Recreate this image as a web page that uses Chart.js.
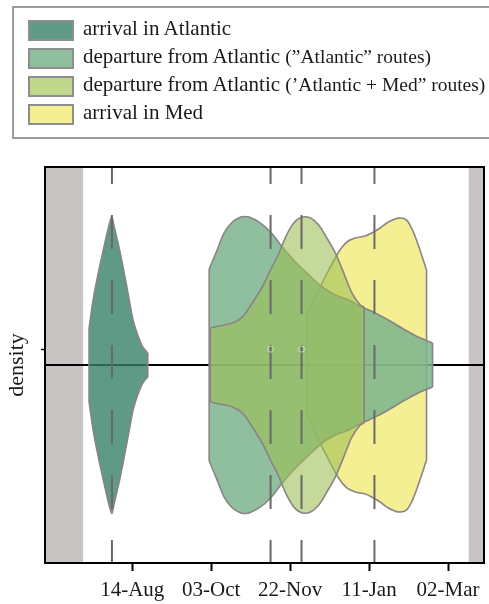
<!DOCTYPE html>
<html>
<head>
<meta charset="utf-8">
<script src="https://cdn.jsdelivr.net/npm/chart.js@4.4.1/dist/chart.umd.min.js"></script>
<style>
  html, body { margin: 0; padding: 0; background: #fff; overflow: hidden; }
  body { width: 489px; height: 604px; position: relative; font-family: 'Liberation Serif', serif; color: #1a1a1a; }
  #chart { position: absolute; left: 0; top: 0; }
  #legendBox { position: absolute; left: 12px; top: 6px; width: 490px; height: 133px;
               border: 2px solid #9c9c9c; box-sizing: border-box; }
  .sw { position: absolute; left: 28px; width: 46px; height: 21px; box-sizing: border-box;
        border: 2px solid #8e8e8e; }
  .lab { position: absolute; left: 83px; font-size: 21px; line-height: 28px; white-space: nowrap; }
  .lab small { font-size: 19.5px; }
</style>
</head>
<body>
<div id="legendBox"></div>
<canvas id="chart" width="489" height="604"></canvas>
<script>
'use strict';

/* ── data (x = days after 14-Aug, y = half-width of violin) ── */
const SERIES_LABELS = ['arrival in Atlantic', 'departure from Atlantic', 'departure from Atlantic', 'arrival in Med'];
const SERIES_NOTES  = ['', '(\u201DAtlantic\u201D routes)', '(\u2019Atlantic + Med\u201D routes)', ''];
const SERIES_FILL   = ['rgba(55,129,105,0.8)', 'rgba(123,180,142,0.85)', 'rgba(155,191,81,0.58)', 'rgba(238,228,77,0.6)'];
const SERIES_SWATCH = ['#5f9a87', '#8fbf9f', '#c0d88c', '#f5ef94'];

const TICK_DAYS   = [0, 50, 100, 150, 200];
const TICK_LABELS = ['14-Aug', '03-Oct', '22-Nov', '11-Jan', '02-Mar'];
const X_MIN = -55.3, X_MAX = 222.8;
const SHADE_BEFORE = -31;   // grey band up to here
const SHADE_AFTER  = 213;   // grey band from here
const MARK_Y = 0.08;

const ARR_ATL_DAYS = [-27.4, -24.8, -20.6, -16.4, -14.3, -12.9, -11.5, -8.0, -3.8, 0.4, 3.5, 6.7, 9.8];
const ARR_ATL_DENS = [0.185, 0.33, 0.50, 0.65, 0.72, 0.75, 0.70, 0.58, 0.41, 0.23, 0.15, 0.09, 0.06];

const DEP_ATL_DAYS = [48.7, 53.0, 58.2, 63.4, 68.7, 71.3, 74.0, 80.3, 87.6, 95.0, 103.4, 111.8, 120.2, 128.6, 137.0, 145.4, 153.8, 162.2, 172.8, 181.2, 190.2];
const DEP_ATL_DENS = [0.485, 0.566, 0.667, 0.722, 0.747, 0.75, 0.747, 0.722, 0.672, 0.596, 0.52, 0.455, 0.394, 0.354, 0.328, 0.293, 0.263, 0.227, 0.177, 0.141, 0.111];

const DEP_MED_DAYS = [49.4, 55.0, 63.4, 69.7, 76.0, 82.3, 87.6, 92.9, 97.1, 102.3, 107.6, 112.9, 118.1, 123.3, 128.6, 133.9, 139.1, 144.4, 146.9];
const DEP_MED_DENS = [0.187, 0.197, 0.212, 0.242, 0.313, 0.394, 0.48, 0.565, 0.646, 0.717, 0.747, 0.742, 0.707, 0.641, 0.566, 0.465, 0.364, 0.303, 0.293];

const ARR_MED_DAYS = [110.7, 114.9, 120.2, 125.5, 130.7, 135.9, 141.2, 147.5, 151.7, 157.0, 162.2, 168.5, 173.8, 178.0, 182.2, 186.4];
const ARR_MED_DENS = [0.253, 0.328, 0.414, 0.495, 0.571, 0.621, 0.641, 0.652, 0.667, 0.692, 0.722, 0.742, 0.732, 0.672, 0.581, 0.48];

const MEDIANS = [-12.9, 87.6, 107.2, 153.4];
const MARKED_MEDIANS = [87.6, 107.2];

/* ── legend (html) ── */
SERIES_LABELS.forEach((label, i) => {
  const sw = document.createElement('div');
  sw.className = 'sw';
  sw.style.top = (20 + 28 * i) + 'px';
  sw.style.background = SERIES_SWATCH[i];
  document.body.appendChild(sw);
  const t = document.createElement('div');
  t.className = 'lab';
  t.style.top = (14 + 28 * i) + 'px';
  t.innerHTML = label + (SERIES_NOTES[i] ? ' <small>' + SERIES_NOTES[i] + '</small>' : '');
  document.body.appendChild(t);
});

/* ── chart ── */
Chart.defaults.font.family = "'Liberation Serif', serif";
Chart.defaults.color = '#1a1a1a';

const OUTLINE = '#8a8484';

// upper + lower outline (filled between), plus the two straight end cuts
function violin(days, dens, fill, order, tension) {
  const last = days.length - 1;
  const upper = days.map((d, i) => ({ x: d, y: dens[i] }));
  const lower = days.map((d, i) => ({ x: d, y: -dens[i] }));
  const ends = [
    { x: days[0], y: dens[0] }, { x: days[0], y: -dens[0] },
    { x: days[last], y: null },
    { x: days[last], y: dens[last] }, { x: days[last], y: -dens[last] }
  ];
  const base = { pointRadius: 0, borderColor: OUTLINE, borderWidth: 1.6 };
  return [
    Object.assign({ data: upper, fill: '+1', backgroundColor: fill, order: order + 0.5, tension }, base),
    Object.assign({ data: lower, fill: false, order: order, tension }, base),
    Object.assign({ data: ends, fill: false, order: order, spanGaps: false }, base)
  ];
}

function band(x0, x1) {
  return {
    data: [{ x: x0, y: 1 }, { x: x1, y: 1 }],
    fill: { value: -1 }, backgroundColor: '#c8c4c4', borderWidth: 0, pointRadius: 0, order: 30
  };
}

const datasets = [
  band(X_MIN, SHADE_BEFORE),
  band(SHADE_AFTER, X_MAX),
  { data: [{ x: X_MIN, y: 0 }, { x: X_MAX, y: 0 }], borderColor: '#000', borderWidth: 2, pointRadius: 0, fill: false, order: 20 },
  ...violin(ARR_MED_DAYS, ARR_MED_DENS, SERIES_FILL[3], 10, 0.3),
  ...violin(DEP_ATL_DAYS, DEP_ATL_DENS, SERIES_FILL[1], 8, 0.3),
  ...violin(DEP_MED_DAYS, DEP_MED_DENS, SERIES_FILL[2], 6, 0.3),
  ...violin(ARR_ATL_DAYS, ARR_ATL_DENS, SERIES_FILL[0], 4, 0.15),
  ...MEDIANS.map(m => ({
    data: [{ x: m, y: 1 }, { x: m, y: -1 }], borderColor: '#6b6868', borderWidth: 2,
    borderDash: [34, 31], borderDashOffset: 17, pointRadius: 0, fill: false, order: 2
  })),
  {
    data: MARKED_MEDIANS.map(m => ({ x: m, y: MARK_Y })), showLine: false, pointRadius: 3,
    pointBorderColor: 'rgba(215,228,200,0.8)', pointBackgroundColor: 'rgba(0,0,0,0)', pointBorderWidth: 1, order: 1
  }
];

const framePlugin = {
  id: 'frame',
  afterDatasetsDraw(chart) {
    const { ctx, chartArea: a } = chart;
    ctx.save();
    ctx.strokeStyle = '#000';
    ctx.lineWidth = 2;
    ctx.strokeRect(a.left, a.top, a.right - a.left, a.bottom - a.top);
    ctx.restore();
  }
};

new Chart(document.getElementById('chart'), {
  type: 'line',
  data: { datasets },
  plugins: [framePlugin],
  options: {
    responsive: false,
    animation: false,
    layout: { padding: { top: 167, right: 3, bottom: 0, left: 0 } },
    plugins: { legend: { display: false }, tooltip: { enabled: false } },
    scales: {
      x: {
        type: 'linear', min: X_MIN, max: X_MAX,
        afterBuildTicks: s => { s.ticks = TICK_DAYS.map(v => ({ value: v })); },
        afterFit: s => { s.height = 41; },
        ticks: { callback: (v, i) => TICK_LABELS[i], font: { size: 21 }, padding: 7, maxRotation: 0 },
        grid: { drawOnChartArea: false, tickLength: 8, tickColor: '#000', tickWidth: 2 },
        border: { display: false }
      },
      y: {
        type: 'linear', min: -1, max: 1,
        afterBuildTicks: s => { s.ticks = [{ value: MARK_Y }]; },
        afterFit: s => { s.width = 45; },
        ticks: { callback: () => '' },
        grid: { drawOnChartArea: false, tickLength: 4, tickColor: '#000', tickWidth: 1.5 },
        border: { display: false },
        title: { display: true, text: 'density', font: { size: 22 }, padding: { top: 4, bottom: 0 } }
      }
    }
  }
});
</script>
</body>
</html>
